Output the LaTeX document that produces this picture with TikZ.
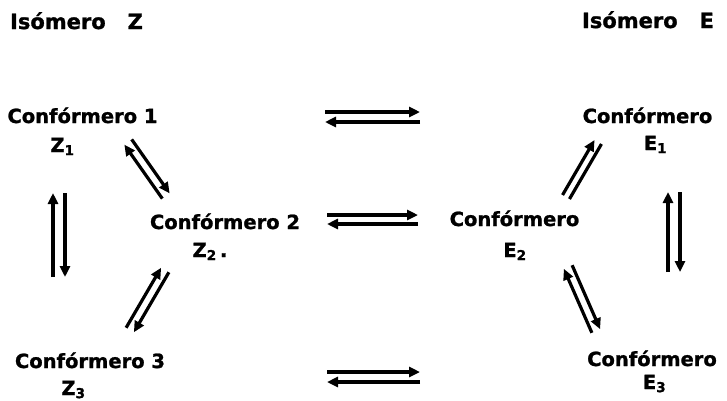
\documentclass[tikz,border=0pt]{standalone}
\usepackage{fontspec}
\setmainfont{DejaVu Sans}[BoldFeatures={FakeBold=1.2}]
\usetikzlibrary{arrows.meta,calc}

\tikzset{
  lbl/.style={anchor=base, inner sep=0pt, font=\fontsize{19.5}{23}\selectfont\bfseries},
  head/.style={anchor=base, inner sep=0pt, font=\fontsize{21}{25}\selectfont\bfseries},
  eqline/.style={line width=3.2pt, -{Triangle[length=11pt,width=10pt]}},
  plainline/.style={line width=3.2pt},
}

% a pair of opposite arrows between two named points, #3 = half gap
\newcommand\equil[3]{%
  \draw[eqline] ($(#1)!#3!90:(#2)$) -- ($(#2)!#3!-90:(#1)$);
  \draw[eqline] ($(#2)!#3!90:(#1)$) -- ($(#1)!#3!-90:(#2)$);}

\begin{document}
\begin{tikzpicture}[x=1pt,y=-1pt]
\useasboundingbox (0,0) rectangle (727,400);

% headings
\node[head] (isoz) at (76.5,29) {Isómero\ \ \ Z};
\node[head] (isoe) at (648,28) {Isómero\ \ \ E};

% Z conformers
\node[lbl] (z1) at (82.5,123) {Confórmero 1};
\node[lbl] (z1s) at (62.5,152) {Z\textsubscript{1}};
\node[lbl] (z2) at (225,229) {Confórmero 2};
\node[lbl] (z2s) at (210,257) {Z\textsubscript{2}\,.};
\node[lbl] (z3) at (90,368) {Confórmero 3};
\node[lbl] (z3s) at (73.5,395) {Z\textsubscript{3}};

% E conformers
\node[lbl] (e1) at (647.5,123) {Confórmero};
\node[lbl] (e1s) at (655.5,150) {E\textsubscript{1}};
\node[lbl] (e2) at (514.5,226) {Confórmero};
\node[lbl] (e2s) at (515,257) {E\textsubscript{2}};
\node[lbl] (e3) at (652,366) {Confórmero};
\node[lbl] (e3s) at (654.5,389) {E\textsubscript{3}};

% arrow end points
\coordinate (h1a) at (325,117);   \coordinate (h1b) at (420,117);
\coordinate (h2a) at (327,219.5); \coordinate (h2b) at (418,219.5);
\coordinate (h3a) at (327,377);   \coordinate (h3b) at (420,377);
\coordinate (vza) at (59,277);    \coordinate (vzb) at (59,193);
\coordinate (vea) at (674,272);   \coordinate (veb) at (674,192);
\coordinate (d12a) at (128,142);  \coordinate (d12b) at (166,196);
\coordinate (d32a) at (130,330);  \coordinate (d32b) at (165,270);
\coordinate (d21a) at (566,197);  \coordinate (d21b) at (598,142);
\coordinate (d23a) at (596,331);  \coordinate (d23b) at (568,267);

% equilibria between the two isomers
\equil{h1a}{h1b}{5pt}
\equil{h2a}{h2b}{4.5pt}
\equil{h3a}{h3b}{5pt}

% equilibria among the Z conformers
\equil{vza}{vzb}{6pt}
\equil{d12a}{d12b}{4.5pt}
\equil{d32a}{d32b}{4.5pt}

% equilibria among the E conformers
\equil{vea}{veb}{6pt}
\equil{d23a}{d23b}{4.5pt}
\draw[eqline] ($(d21a)!4pt!90:(d21b)$) -- ($(d21b)!4pt!-90:(d21a)$);
\draw[plainline] ($(d21b)!4pt!90:(d21a)$) -- ($(d21a)!4pt!-90:(d21b)$);
\end{tikzpicture}
\end{document}
